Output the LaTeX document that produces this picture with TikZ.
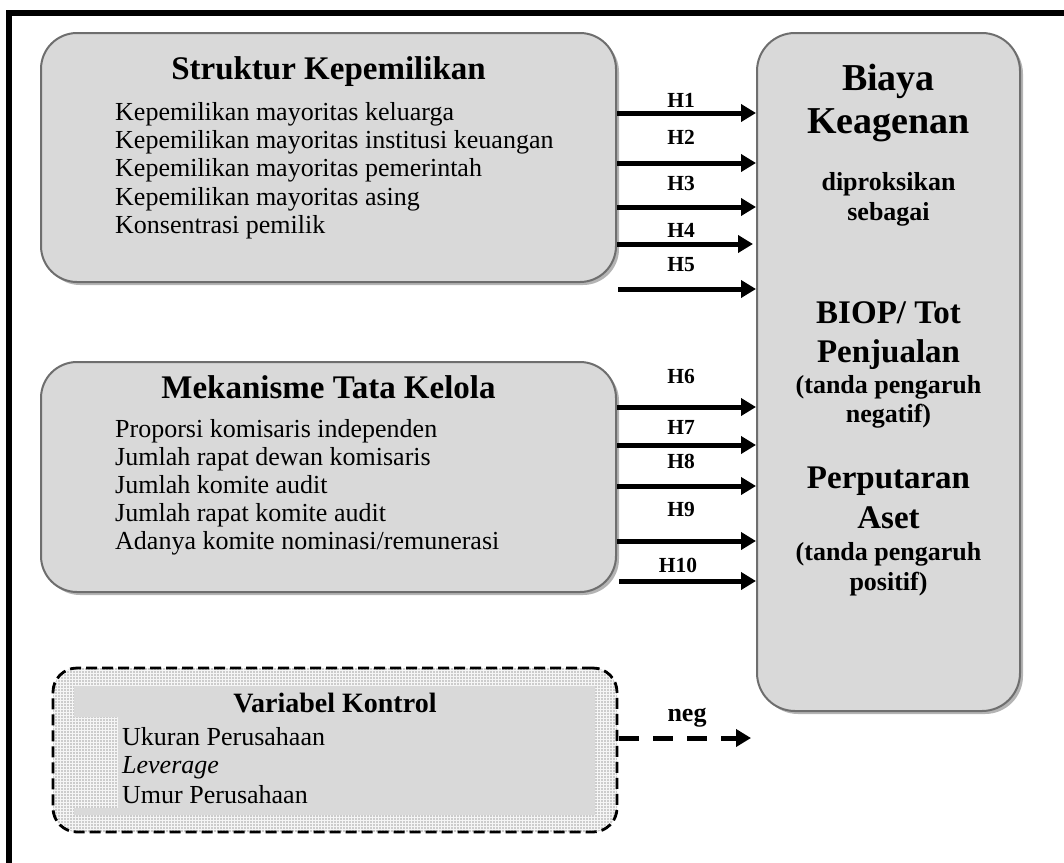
\documentclass[tikz,border=0pt]{standalone}
\usepackage{fontspec}
\setmainfont{Liberation Serif}
\usetikzlibrary{arrows.meta,shadows,patterns}
\definecolor{boxfill}{HTML}{D9D9D9}
\definecolor{boxline}{HTML}{6E6E6E}
\definecolor{shadowc}{HTML}{B4B4B4}
\definecolor{patbg}{HTML}{CCCCCC}
\begin{document}
\begin{tikzpicture}[x=1pt,y=-1pt,
  bigbox/.style={draw=boxline, line width=2pt, fill=boxfill, inner sep=0pt,
    drop shadow={shadow xshift=3pt, shadow yshift=-3pt, fill=shadowc, opacity=1}},
  ctrlbox/.style={rounded corners=24pt, fill=patbg, inner sep=0pt,
    postaction={pattern=grid, pattern color=white!92!gray},
    postaction={draw=black, line width=2.8pt, dash pattern=on 11pt off 5pt}},
  arr/.style={line width=5pt, -{Triangle[length=15pt,width=17pt]}},
  darr/.style={line width=5pt, dash pattern=on 20pt off 14pt, -{Triangle[length=15pt,width=17pt]}},
  hlab/.style={font=\fontsize{21.5}{24}\selectfont\bfseries, anchor=base, inner sep=0pt},
  ttl/.style={font=\fontsize{33}{38}\selectfont\bfseries, anchor=base, inner sep=0pt},
  itm/.style={font=\fontsize{26}{28}\selectfont, anchor=base west, inner sep=0pt},
  bigt/.style={font=\fontsize{38}{42}\selectfont\bfseries, anchor=base, inner sep=0pt},
  midt/.style={font=\fontsize{33}{38}\selectfont\bfseries, anchor=base, inner sep=0pt},
  smlt/.style={font=\fontsize{26}{30}\selectfont\bfseries, anchor=base, inner sep=0pt}
]
\useasboundingbox (0,0) rectangle (1064,862);
\begin{scope}
  \clip (0,0) rectangle (1064,862);
  \draw[line width=6pt] (9,13) rectangle (1080,880);
\end{scope}

% boxes
\node[bigbox, rounded corners=36pt, minimum width=575pt, minimum height=249pt] (sk) at (328.5,157.5) {};
\node[bigbox, rounded corners=36pt, minimum width=575pt, minimum height=230pt] (mk) at (328.5,477) {};
\node[bigbox, rounded corners=38pt, minimum width=263pt, minimum height=678pt] (bk) at (888.5,372) {};
\node[ctrlbox, minimum width=564pt, minimum height=164pt] (vk) at (335,750) {};
\fill[boxfill] (74,686) -- (595,686) -- (595,815) -- (74,815) -- (74,808) -- (118,808) -- (118,717) -- (74,717) -- cycle;

% Struktur Kepemilikan
\node[ttl] (skt) at (328.5,79) {Struktur Kepemilikan};
\node[itm] (sk1) at (115,120) {Kepemilikan mayoritas keluarga};
\node[itm] (sk2) at (115,148) {Kepemilikan mayoritas institusi keuangan};
\node[itm] (sk3) at (115,176) {Kepemilikan mayoritas pemerintah};
\node[itm] (sk4) at (115,205) {Kepemilikan mayoritas asing};
\node[itm] (sk5) at (115,233) {Konsentrasi pemilik};

% Mekanisme Tata Kelola
\node[ttl] (mkt) at (328.5,398) {Mekanisme Tata Kelola};
\node[itm] (mk1) at (115,437) {Proporsi komisaris independen};
\node[itm] (mk2) at (115,465) {Jumlah rapat dewan komisaris};
\node[itm] (mk3) at (115,493) {Jumlah komite audit};
\node[itm] (mk4) at (115,521) {Jumlah rapat komite audit};
\node[itm] (mk5) at (115,549) {Adanya komite nominasi/remunerasi};

% Variabel Kontrol
\node[font=\fontsize{28}{32}\selectfont\bfseries, anchor=base, inner sep=0pt] (vkt) at (335,712) {Variabel Kontrol};
\node[itm] (vk1) at (122,745) {Ukuran Perusahaan};
\node[itm] (vk2) at (122,773) {\itshape Leverage};
\node[itm] (vk3) at (122,803) {Umur Perusahaan};

% Biaya Keagenan
\node[bigt] (b1) at (888.5,90.5) {Biaya};
\node[bigt] (b2) at (888.5,133) {Keagenan};
\node[smlt] (b3) at (888.5,190) {diproksikan};
\node[smlt] (b4) at (888.5,220) {sebagai};
\node[midt] (b5) at (888.5,323) {BIOP/ Tot};
\node[midt] (b6) at (888.5,362) {Penjualan};
\node[smlt] (b7) at (888.5,393) {(tanda pengaruh};
\node[smlt] (b8) at (888.5,422) {negatif)};
\node[midt] (b9) at (888.5,488) {Perputaran};
\node[midt] (b10) at (888.5,528) {Aset};
\node[smlt] (b11) at (888.5,560) {(tanda pengaruh};
\node[smlt] (b12) at (888.5,590) {positif)};

% hypothesis labels
\node[hlab] (h1) at (681,107) {H1};
\node[hlab] (h2) at (681,144) {H2};
\node[hlab] (h3) at (681,190) {H3};
\node[hlab] (h4) at (681,237) {H4};
\node[hlab] (h5) at (681,271) {H5};
\node[hlab] (h6) at (681,383) {H6};
\node[hlab] (h7) at (681,434) {H7};
\node[hlab] (h8) at (681,468) {H8};
\node[hlab] (h9) at (681,516) {H9};
\node[hlab] (h10) at (678,572) {H10};
\node[font=\fontsize{26}{30}\selectfont\bfseries, anchor=base, inner sep=0pt] (neg) at (687,721) {neg};

% arrows
\draw[arr] (sk.east |- 0,113) -- (bk.west |- 0,113);
\draw[arr] (sk.east |- 0,163) -- (bk.west |- 0,163);
\draw[arr] (sk.east |- 0,207) -- (bk.west |- 0,207);
\draw[arr] (sk.east |- 0,244) -- ([xshift=-3pt]bk.west |- 0,244);
\draw[arr] ([xshift=1pt]sk.east |- 0,289) -- (bk.west |- 0,289);
\draw[arr] (mk.east |- 0,407) -- (bk.west |- 0,407);
\draw[arr] (mk.east |- 0,445) -- (bk.west |- 0,445);
\draw[arr] (mk.east |- 0,486) -- (bk.west |- 0,486);
\draw[arr] (mk.east |- 0,541) -- (bk.west |- 0,541);
\draw[arr] ([xshift=2pt]mk.east |- 0,581) -- (bk.west |- 0,581);
\draw[darr] ([xshift=2pt]vk.east |- 0,738) -- ([xshift=-5pt]bk.west |- 0,738);
\end{tikzpicture}
\end{document}
